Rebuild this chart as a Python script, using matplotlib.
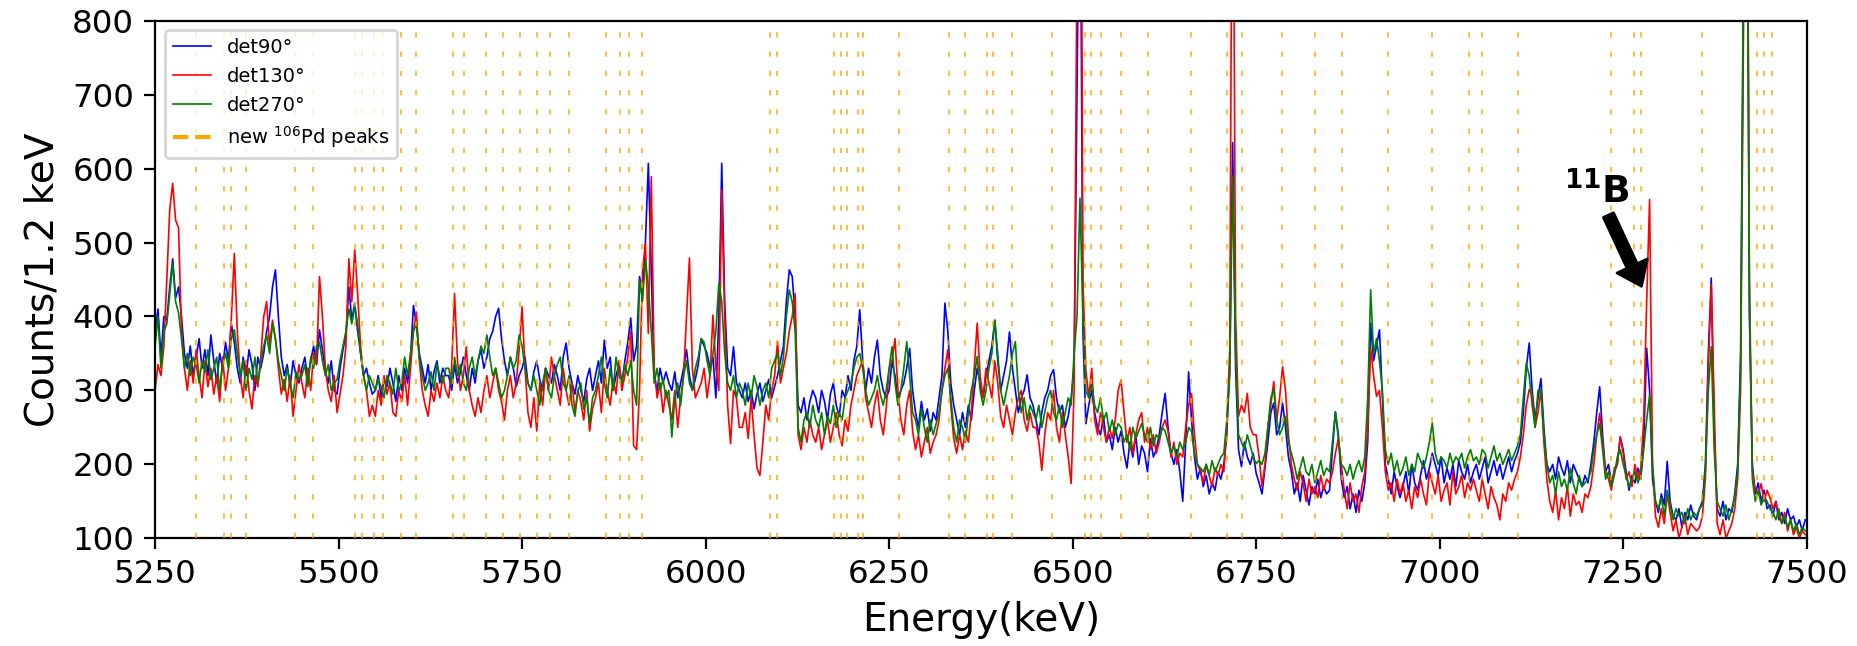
import numpy as np
import matplotlib
matplotlib.use("Agg")
import matplotlib.pyplot as plt
from matplotlib.lines import Line2D

# energy grid (keV), 4 keV steps from 5250 to 7498
energy = np.arange(5250, 7500, 4)

det90 = [
    380, 410, 345, 400, 395, 440, 478, 425, 440, 400, 350, 330, 360, 320, 345, 370, 330, 355, 320, 375, 340, 310, 350, 330, 365,
    340, 390, 365, 330, 310, 345, 320, 355, 335, 300, 345, 330, 350, 380, 400, 440, 463, 400, 345, 320, 335, 305, 340, 320, 310,
    330, 345, 315, 340, 360, 335, 382, 355, 325, 310, 340, 300, 295, 330, 355, 375, 440, 395, 418, 380, 350, 320, 330, 310, 295,
    300, 320, 290, 315, 305, 330, 310, 285, 320, 300, 330, 310, 345, 415, 390, 350, 330, 310, 335, 300, 325, 340, 310, 330, 320,
    320, 300, 335, 310, 325, 345, 320, 300, 330, 310, 340, 355, 330, 345, 370, 380, 400, 411, 370, 340, 320, 345, 330, 305, 320,
    330, 345, 310, 300, 325, 340, 315, 300, 330, 320, 310, 335, 320, 300, 345, 364, 330, 310, 295, 320, 300, 285, 315, 330, 300,
    320, 340, 310, 368, 330, 345, 300, 320, 335, 310, 340, 365, 398, 340, 360, 454, 430, 500, 607, 460, 320, 300, 330, 310, 325,
    310, 300, 325, 290, 310, 330, 355, 320, 300, 315, 335, 370, 360, 350, 330, 345, 290, 400, 607, 420, 330, 320, 359, 310, 300,
    290, 310, 285, 300, 275, 295, 310, 285, 300, 315, 290, 305, 320, 340, 360, 420, 463, 454, 400, 280, 270, 290, 260, 285, 300,
    290, 270, 300, 285, 260, 295, 310, 280, 265, 300, 290, 320, 300, 340, 360, 409, 340, 300, 330, 310, 345, 368, 320, 300, 290,
    300, 340, 320, 290, 300, 310, 330, 357, 300, 270, 250, 285, 260, 275, 245, 270, 260, 290, 320, 418, 380, 310, 280, 260, 240,
    270, 250, 280, 260, 300, 330, 310, 290, 320, 340, 360, 395, 340, 300, 320, 340, 379, 330, 300, 270, 290, 300, 321, 290, 280,
    260, 240, 270, 290, 300, 320, 328, 290, 270, 280, 250, 265, 290, 330, 700, 1100, 380, 255, 280, 300, 270, 250, 240, 265, 230,
    240, 220, 250, 230, 245, 215, 195, 230, 210, 240, 200, 225, 215, 190, 235, 210, 220, 240, 270, 296, 250, 215, 200, 220, 190,
    150, 230, 325, 260, 210, 180, 195, 170, 185, 160, 175, 165, 190, 180, 200, 240, 330, 635, 330, 220, 197, 230, 210, 200, 215,
    188, 175, 160, 195, 230, 270, 283, 240, 250, 283, 250, 210, 190, 160, 175, 150, 185, 165, 145, 170, 160, 180, 155, 170, 160,
    165, 220, 271, 240, 180, 155, 170, 140, 160, 135, 165, 150, 175, 230, 391, 340, 360, 382, 290, 200, 180, 160, 190, 170, 155,
    170, 190, 160, 200, 175, 165, 185, 205, 180, 195, 215, 200, 185, 210, 175, 195, 180, 200, 170, 205, 190, 180, 200, 175, 190,
    200, 180, 195, 210, 175, 190, 205, 185, 200, 180, 195, 210, 190, 205, 215, 230, 270, 330, 364, 300, 260, 290, 316, 250, 200,
    190, 200, 180, 210, 195, 185, 205, 175, 200, 190, 180, 170, 185, 175, 200, 230, 270, 305, 240, 190, 200, 175, 190, 200, 237,
    220, 190, 165, 185, 175, 195, 180, 230, 357, 300, 180, 150, 135, 160, 145, 204, 150, 130, 125, 140, 115, 135, 125, 145, 130,
    125, 140, 150, 200, 350, 452, 250, 140, 130, 150, 125, 140, 135, 160, 200, 350, 900, 1200, 400, 200, 160, 175, 150, 165, 140,
    145, 130, 150, 125, 135, 120, 140, 125, 130, 115, 125, 110, 125,
]

det130 = [
    300, 335, 320, 360, 450, 545, 580, 530, 520, 380, 330, 300, 340, 310, 355, 320, 290, 340, 305, 330, 295, 320, 285, 345, 300,
    330, 400, 485, 380, 320, 290, 340, 300, 275, 320, 305, 345, 400, 420, 360, 395, 370, 330, 295, 315, 285, 320, 265, 300, 335,
    310, 290, 330, 300, 350, 335, 454, 400, 330, 300, 285, 320, 270, 295, 320, 360, 478, 420, 490, 430, 360, 320, 300, 265, 280,
    265, 300, 280, 320, 295, 310, 270, 265, 300, 285, 320, 280, 330, 380, 406, 340, 300, 280, 265, 300, 285, 310, 290, 320, 300,
    290, 330, 431, 340, 300, 320, 359, 300, 280, 265, 290, 270, 300, 320, 290, 310, 330, 300, 285, 260, 300, 320, 290, 310, 355,
    413, 330, 270, 250, 290, 245, 310, 280, 330, 300, 345, 320, 300, 280, 330, 300, 280, 310, 270, 300, 285, 260, 300, 245, 275,
    290, 310, 270, 330, 300, 280, 315, 295, 340, 300, 320, 345, 380, 225, 220, 300, 460, 499, 377, 589, 330, 290, 310, 270, 300,
    280, 260, 300, 250, 290, 320, 400, 479, 330, 290, 300, 310, 330, 290, 320, 402, 330, 300, 571, 400, 280, 228, 300, 290, 250,
    250, 270, 235, 290, 240, 195, 185, 230, 280, 260, 300, 320, 366, 310, 330, 350, 380, 400, 431, 240, 220, 250, 230, 260, 240,
    230, 250, 220, 240, 260, 230, 250, 270, 240, 225, 260, 245, 280, 300, 320, 330, 341, 290, 270, 250, 280, 300, 260, 240, 275,
    330, 340, 370, 300, 260, 240, 280, 300, 245, 220, 240, 210, 230, 250, 215, 230, 240, 260, 300, 330, 355, 280, 235, 215, 240,
    220, 245, 230, 270, 330, 391, 320, 290, 330, 310, 290, 340, 310, 265, 250, 280, 260, 240, 270, 290, 300, 260, 245, 270, 250,
    250, 230, 192, 240, 270, 260, 300, 250, 230, 270, 240, 210, 174, 300, 900, 1500, 450, 328, 290, 330, 260, 240, 270, 250, 230,
    250, 235, 260, 300, 314, 270, 230, 250, 215, 240, 260, 270, 230, 250, 220, 240, 215, 230, 250, 260, 245, 210, 230, 200, 215,
    210, 250, 280, 296, 240, 200, 190, 175, 200, 185, 170, 195, 185, 200, 190, 250, 355, 1200, 400, 265, 280, 270, 296, 250, 240,
    240, 210, 170, 200, 250, 280, 312, 260, 290, 332, 300, 240, 200, 180, 165, 190, 175, 150, 180, 160, 170, 155, 185, 165, 180,
    175, 190, 215, 235, 200, 165, 140, 175, 150, 160, 135, 170, 190, 250, 357, 320, 292, 300, 250, 190, 165, 175, 150, 180, 160,
    175, 150, 165, 140, 170, 155, 180, 160, 145, 190, 175, 160, 185, 150, 165, 175, 145, 190, 160, 170, 185, 155, 175, 165, 180,
    165, 150, 180, 160, 140, 170, 155, 145, 125, 160, 150, 175, 165, 180, 190, 210, 240, 280, 301, 295, 250, 270, 301, 230, 180,
    150, 135, 165, 125, 155, 140, 170, 130, 160, 145, 150, 135, 160, 155, 170, 200, 240, 269, 230, 190, 180, 165, 195, 200, 237,
    215, 180, 190, 170, 200, 180, 195, 260, 420, 558, 200, 130, 115, 140, 120, 160, 135, 110, 125, 100, 115, 130, 105, 120, 115,
    110, 115, 130, 180, 330, 443, 280, 120, 105, 125, 100, 110, 120, 140, 180, 300, 800, 1300, 450, 190, 165, 160, 174, 150, 165,
    155, 140, 150, 130, 120, 135, 110, 125, 105, 115, 100, 110, 105,
]

det270 = [
    360, 400, 330, 380, 390, 430, 472, 420, 405, 370, 330, 350, 320, 345, 335, 310, 340, 325, 355, 315, 330, 345, 300, 335, 350,
    330, 370, 382, 350, 320, 340, 300, 330, 315, 345, 310, 335, 360, 375, 350, 390, 370, 340, 320, 300, 330, 310, 290, 325, 315,
    320, 335, 305, 345, 330, 360, 365, 340, 320, 335, 300, 310, 315, 340, 360, 380, 410, 390, 413, 390, 350, 320, 300, 320, 310,
    300, 315, 305, 290, 320, 310, 295, 330, 300, 310, 345, 320, 350, 380, 390, 345, 320, 300, 310, 325, 300, 335, 320, 310, 330,
    330, 310, 345, 320, 335, 310, 300, 330, 345, 320, 340, 360, 350, 375, 345, 320, 330, 310, 290, 300, 320, 345, 330, 340, 375,
    360, 330, 310, 300, 320, 300, 280, 310, 330, 300, 290, 320, 335, 345, 310, 300, 320, 280, 265, 300, 310, 275, 290, 255, 290,
    300, 320, 345, 310, 290, 330, 300, 345, 320, 310, 335, 320, 340, 300, 280, 449, 420, 476, 440, 380, 310, 330, 300, 315, 290,
    300, 237, 290, 310, 280, 320, 340, 310, 300, 330, 345, 370, 365, 340, 320, 350, 380, 445, 420, 350, 310, 300, 320, 290, 310,
    300, 280, 310, 290, 320, 305, 280, 300, 310, 290, 330, 340, 350, 320, 345, 400, 436, 420, 380, 250, 230, 260, 270, 250, 280,
    260, 250, 270, 240, 265, 255, 280, 250, 270, 260, 290, 300, 310, 330, 345, 350, 330, 300, 280, 290, 300, 320, 295, 280, 300,
    330, 359, 310, 280, 300, 330, 366, 320, 270, 260, 240, 275, 250, 230, 260, 240, 255, 270, 300, 320, 330, 290, 250, 230, 260,
    250, 230, 270, 300, 320, 346, 300, 280, 300, 330, 350, 395, 350, 300, 280, 300, 320, 350, 366, 300, 270, 290, 260, 280, 270,
    260, 280, 250, 270, 290, 300, 270, 260, 280, 250, 270, 290, 280, 350, 400, 560, 400, 300, 290, 310, 280, 270, 290, 260, 270,
    245, 260, 240, 255, 250, 230, 240, 220, 250, 235, 245, 255, 240, 230, 250, 225, 240, 235, 250, 245, 230, 215, 225, 210, 230,
    220, 230, 250, 245, 215, 200, 195, 190, 200, 185, 205, 190, 200, 210, 215, 260, 320, 590, 350, 240, 230, 220, 240, 225, 210,
    201, 205, 200, 215, 250, 290, 301, 260, 240, 250, 265, 230, 215, 200, 180, 195, 210, 190, 185, 200, 175, 190, 205, 185, 195,
    190, 230, 271, 235, 200, 195, 185, 200, 180, 195, 205, 190, 210, 290, 436, 350, 370, 340, 300, 220, 200, 215, 190, 205, 185,
    195, 210, 185, 200, 190, 215, 205, 195, 210, 230, 256, 215, 200, 210, 205, 195, 215, 200, 210, 205, 215, 195, 210, 220, 205,
    210, 200, 220, 215, 195, 210, 225, 205, 215, 200, 210, 220, 205, 215, 225, 240, 290, 337, 320, 280, 250, 300, 301, 240, 200,
    175, 185, 160, 190, 170, 180, 165, 195, 175, 160, 185, 170, 175, 180, 190, 220, 240, 255, 220, 180, 190, 170, 185, 210, 220,
    200, 185, 170, 180, 190, 175, 185, 220, 260, 294, 200, 150, 140, 155, 130, 165, 145, 125, 140, 130, 135, 120, 140, 125, 135,
    130, 140, 145, 190, 300, 359, 220, 150, 140, 130, 145, 125, 140, 155, 190, 330, 850, 1250, 420, 180, 150, 165, 145, 155, 150,
    140, 135, 125, 140, 120, 130, 115, 125, 110, 120, 105, 115, 110,
]

# energies of the new 106Pd peaks (keV)
pd_peaks = [
    5306, 5344, 5354, 5374, 5441, 5465, 5523, 5532, 5548, 5560, 5585, 5605,
    5656, 5671, 5701, 5724, 5747, 5770, 5788, 5814, 5864, 5883, 5895, 5913,
    6088, 6097, 6175, 6185, 6192, 6207, 6215, 6264, 6331, 6353, 6384, 6391,
    6417, 6472, 6517, 6525, 6539, 6566, 6603, 6661, 6710, 6731, 6785, 6830,
    6867, 6929, 6989, 7040, 7058, 7107, 7233, 7265, 7274, 7358, 7432, 7442, 7453,
]

series_labels = ["det90°", "det130°", "det270°"]
series_colors = ["blue", "red", "green"]

fig = plt.figure(figsize=(9.285, 3.23), dpi=200)
ax = fig.add_axes([0.0835, 0.1667, 0.8894, 0.8013])

for vals, lab, col in zip([det90, det130, det270], series_labels, series_colors):
    ax.plot(energy, vals, color=col, lw=0.6, label=lab)

for e in pd_peaks:
    ax.axvline(e, color="orange", lw=0.7, alpha=0.75, dashes=(2.7, 7.2), zorder=3)

ax.set_xlim(5250, 7500)
ax.set_ylim(100, 800)
ax.set_xticks(np.arange(5250, 7501, 250))
ax.set_yticks(np.arange(100, 801, 100))
ax.tick_params(labelsize=11.7, length=4, width=0.8)
ax.set_xlabel("Energy(keV)", fontsize=14)
ax.set_ylabel("Counts/1.2 keV", fontsize=14)

handles = [Line2D([], [], color=c, lw=0.6) for c in series_colors]
handles.append(Line2D([], [], color="orange", lw=1.5, ls="--"))
labels = series_labels + ["new $^{106}$Pd peaks"]
ax.legend(handles, labels, loc="upper left", fontsize=7)

# 11B label and arrow
ax.text(7214, 570, r"$^{\mathbf{11}}\mathbf{B}$", ha="center", va="center",
        fontsize=13.5, fontweight="bold")
ax.annotate("", xy=(7275, 441), xytext=(7230, 537),
            arrowprops=dict(facecolor="black", edgecolor="black", width=4,
                            headwidth=12, headlength=8, shrink=0.0))

fig.savefig("out.png", dpi=200)
